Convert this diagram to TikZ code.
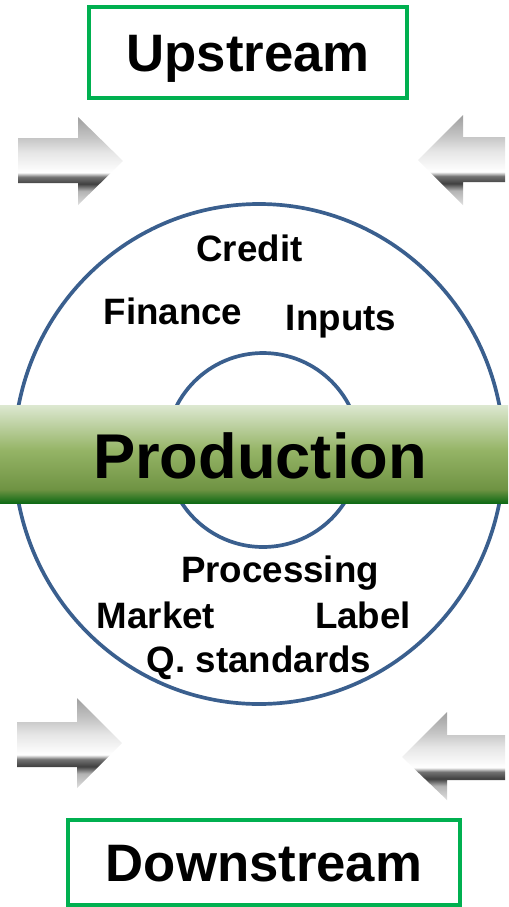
\documentclass[tikz,border=0pt]{standalone}
\usepackage{fontspec}
\setmainfont{Liberation Sans}
\usepackage{tikz}

\definecolor{ringblue}{HTML}{3A5F8E}
\definecolor{boxgreen}{HTML}{00B050}
\definecolor{bandtop}{HTML}{DDE8D1}
\definecolor{bandmid}{HTML}{95B466}
\definecolor{bandlow}{HTML}{6F9343}
\definecolor{bandbot}{HTML}{0F6A15}

\pgfdeclareverticalshading{band}{100bp}{color(0bp)=(bandbot); color(25bp)=(bandbot);
  color(32bp)=(bandlow); color(52bp)=(bandmid); color(75bp)=(bandtop); color(100bp)=(bandtop)}
\pgfdeclareverticalshading{metal}{100bp}{color(0bp)=(gray!25); color(25bp)=(gray!25);
  color(33bp)=(gray!60); color(37bp)=(black!75); color(41bp)=(black!55); color(43.5bp)=(white);
  color(55bp)=(gray!20); color(63bp)=(gray!45); color(75bp)=(gray!75); color(100bp)=(gray!75)}

\begin{document}
\begin{tikzpicture}[x=0.02cm,y=-0.02cm,
    every node/.style={font=\bfseries},
    stream/.style={draw=boxgreen,line width=2.2pt,inner sep=0pt,font=\bfseries\fontsize{30}{30}\selectfont,text height=0.75cm,text depth=0pt},
    ring/.style={draw=ringblue,line width=2.1pt},
    item/.style={anchor=base,inner sep=0pt,font=\bfseries\fontsize{20.9}{22}\selectfont},
    arrowbody/.style={shading=metal}]
  \useasboundingbox (0,0) rectangle (508,907);

  \node[stream,minimum width=6.36cm,minimum height=1.82cm] (up) at (248,52.5) {Upstream};
  \node[stream,minimum width=7.84cm,minimum height=1.7cm] (down) at (264,862.5) {Downstream};

  % gray arrows
  \path[arrowbody] (18,138) -- (78,138) -- (78,117) -- (123,161) -- (78,205) -- (78,183) -- (18,183) -- cycle;
  \path[arrowbody] (505,137) -- (463,137) -- (463,115) -- (418,160) -- (463,205) -- (463,182) -- (505,182) -- cycle;
  \path[arrowbody] (17,722) -- (77,722) -- (77,698) -- (122,743) -- (77,788) -- (77,767) -- (17,767) -- cycle;
  \path[arrowbody] (505,735) -- (447,735) -- (447,712) -- (402,757) -- (447,800) -- (447,780) -- (505,780) -- cycle;

  % rings and band
  \draw[ring] (259,454) ellipse [x radius=245,y radius=250];
  \draw[ring] (263,450) circle [radius=97];
  \path[shading=band] (0,405) rectangle (508,503);
  \node[anchor=base,inner sep=0pt,font=\bfseries\fontsize{36}{36}\selectfont] (prod) at (260,478) {Production};

  \node[item] (credit) at (249.5,261) {Credit};
  \node[item] (finance) at (173,324) {Finance};
  \node[item] (inputs) at (341,330) {Inputs};
  \node[item] (proc) at (280,582) {Processing};
  \node[item] (market) at (156,628) {Market};
  \node[item] (label) at (363,628) {Label};
  \node[item] (qstd) at (259,672) {Q. standards};
\end{tikzpicture}
\end{document}
